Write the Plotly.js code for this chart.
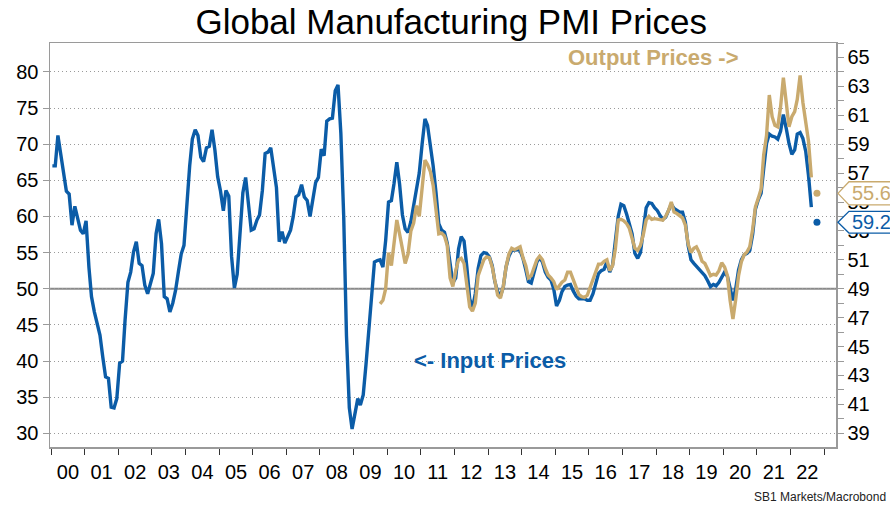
<!DOCTYPE html>
<html>
<head>
<meta charset="utf-8">
<script src="https://cdn.plot.ly/plotly-3.0.1.min.js"></script>
<style>
  html, body { margin: 0; padding: 0; background: #ffffff; }
  #chart { width: 890px; height: 508px; }
</style>
</head>
<body>
<div id="chart"></div>
<script>
// ---- Data (monthly) ----
const inputStart = '2000-01';
const inputPrices = [
  67, 67, 71.2, 68.7, 66.1, 63.5, 63.1, 58.8, 61.4, 59.9, 58.1, 57.6,
  59.4, 53, 48.9, 46.8, 45.1, 43.6, 40.6, 37.8, 37.6, 33.6, 33.5, 34.8,
  39.7, 40, 45.7, 50.9, 52.3, 55.1, 56.5, 53.5, 53.2, 50.5, 49.3, 50.5,
  52.1, 57.6, 59.6, 56.2, 48.9, 48.6, 46.8, 48, 49.8, 52.3, 54.8, 56,
  62, 67, 70.7, 72, 71.2, 68.2, 67.6, 69.5, 69.7, 72, 69.2, 65.5,
  63.5, 60.8, 63.6, 62.8, 54.5, 50.1, 52, 58, 63.3, 65.4, 61.8, 58.1,
  58.3, 59.5, 60.2, 63.6, 68.7, 68.9, 69.5, 67, 64, 56.5, 57.9, 56.3,
  57.2, 58.1, 59.9, 62.7, 63, 64.4, 62.7, 62.2, 60, 62.2, 64.7, 65.4,
  69.3, 68.4, 73.2, 73.5, 73.6, 77.4, 78.2, 71.5, 60, 43.5, 33.5, 30.6,
  32.8, 34.8, 33.9, 35.3, 39.5, 44.5, 49.8, 53.7, 53.9, 54, 53, 56.7,
  62, 62.2, 64.5, 67.5, 64.5, 60.2, 58.3, 57.8, 59.3, 61.5, 63.5, 66,
  70, 73.5, 72.6, 70, 67, 63.3, 59, 58.1, 57.8, 56.3, 53, 50.8,
  51.5, 55.5, 57.2, 56.6, 53, 48.6, 47.3, 49.3, 52.8, 54.6, 55, 54.9,
  54.4, 53.2, 51, 49.6, 49, 50.2, 53, 54.5, 55.3, 55.4, 55.4, 55.3,
  54.2, 52.6, 51, 50.8, 52.4, 53.7, 54.3, 53.7, 52.3, 51.6, 51.2, 50,
  47.6, 48.4, 49.6, 50.3, 50.5, 50.6, 49.7, 49, 48.6, 48.6, 48.6, 48.4,
  48.4, 49.3, 50.8, 52.1, 52.5, 52.7, 53.7, 52.3, 53.3, 56.5, 60, 61.7,
  61.5, 60.3, 59.1, 57.6, 54.9, 54.2, 55, 58, 61.2, 61.9, 61.8, 61.2,
  60.8, 60.1, 59.6, 59.9, 60.8, 61.7, 61.1, 60.9, 60.6, 60.6, 59.2, 56,
  54, 53.5, 53.1, 52.7, 52.2, 51.8, 51.1, 50.3, 50.6, 50.4, 50.9, 51.6,
  52.3, 51.7, 50.3, 48.4, 50, 52.6, 54, 54.7, 54.9, 55.3, 57.5, 61,
  62.3, 63.2, 66.6, 70.1, 71.4, 71.1, 71, 70.7, 71.8, 74.1, 72.2, 70.1,
  68.6, 69.2, 71.4, 71.6, 70.8, 69, 65.7, 61.3
];

const outputStart = '2009-10';
const outputPrices = [
  47.95, 48.2, 49,
  51.5, 50.6, 52, 53.75, 52.8, 51.65, 50.75, 51.4, 53, 53.55, 54.75, 54,
  56, 57.9, 57.6, 57.1, 56.15, 54.25, 52.8, 52.85, 52.65, 52, 49.75, 49.15,
  50.25, 51, 51.1, 50.75, 49.25, 47.75, 47.45, 48, 49.9, 50.5, 51, 51.2,
  51.15, 50.5, 49.5, 48.55, 48.35, 49.15, 50.5, 51.4, 51.8, 51.7, 51.8, 51.9,
  51.15, 50.6, 49.75, 49.9, 50.45, 51, 51.25, 51, 50.4, 49.95, 49.75, 49.5,
  48.95, 49.25, 49.45, 49.6, 50.15, 50.15, 49.65, 49.15, 48.6, 48.45, 48.4, 48.55,
  49.1, 49.5, 50.1, 50.7, 50.7, 50.9, 51, 50.25, 50.6, 51.75, 53.75, 53.8,
  53.7, 53.5, 53.2, 52.5, 51.8, 51.65, 52, 52.75, 53.75, 54, 53.8, 53.85,
  53.8, 53.8, 53.75, 54, 54.4, 55, 54.3, 54.2, 54.05, 53.9, 53.4, 52.1,
  51.5, 51.8, 51.9, 51.5, 50.9, 50.75, 50.35, 49.9, 50, 49.95, 50.25, 50.8,
  50.5, 49.9, 48.2, 46.9, 48.25, 49.9, 50.85, 51.35, 51.55, 51.9, 53.1, 54.65,
  55.25, 55.9, 58.25, 59.6, 62.4, 60.9, 60.3, 60.2, 61.6, 63.6, 61.9, 60.2,
  60.9, 61.25, 62.1, 63.75, 61.9, 60.55, 59.2, 56.7
];

const latestMonth = '2022-10';
const latestInput = 59.2;
const latestOutput = 55.6;

const referenceLevel = 50;
const sourceText = 'SB1 Markets/Macrobond';
const titleText = 'Global Manufacturing PMI Prices';

// ---- Helpers ----
function monthDates(start, n) {
  const parts = start.split('-').map(Number);
  const out = [];
  for (let i = 0; i < n; i++) {
    const t = parts[1] - 1 + i;
    const y = parts[0] + Math.floor(t / 12);
    const m = (t % 12) + 1;
    out.push(y + '-' + String(m).padStart(2, '0') + '-15');
  }
  return out;
}

const BLUE = '#0b5ca7';
const GOLD = '#c9aa6e';
const FONT = 'Liberation Sans, Arial, Helvetica, sans-serif';

const inputX = monthDates(inputStart, inputPrices.length);
const outputX = monthDates(outputStart, outputPrices.length);
const latestX = monthDates(latestMonth, 1);

const traces = [
  { x: inputX, y: inputPrices, type: 'scatter', mode: 'lines', yaxis: 'y',
    line: { color: BLUE, width: 3.4 }, hoverinfo: 'skip' },
  { x: outputX, y: outputPrices, type: 'scatter', mode: 'lines', yaxis: 'y2',
    line: { color: GOLD, width: 3.4 }, hoverinfo: 'skip' },
  { x: latestX, y: [latestInput], type: 'scatter', mode: 'markers', yaxis: 'y',
    marker: { color: BLUE, size: 7 }, hoverinfo: 'skip' },
  { x: latestX, y: [latestOutput], type: 'scatter', mode: 'markers', yaxis: 'y2',
    marker: { color: GOLD, size: 7 }, hoverinfo: 'skip' }
];

// callout boxes for the latest values
function callout(yref, v, half, color) {
  const tip = 1.0025, boxLeft = 1.0165, farRight = 1.2;
  return {
    type: 'path', xref: 'paper', yref: yref, layer: 'above',
    path: 'M ' + tip + ',' + v + ' L ' + boxLeft + ',' + (v + half) +
          ' L ' + farRight + ',' + (v + half) + ' L ' + farRight + ',' + (v - half) +
          ' L ' + boxLeft + ',' + (v - half) + ' Z',
    fillcolor: '#ffffff', line: { color: color, width: 1.3 }
  };
}

const layout = {
  width: 890, height: 508,
  margin: { l: 50, r: 54, t: 43, b: 61, pad: 0 },
  paper_bgcolor: '#ffffff', plot_bgcolor: '#ffffff',
  font: { family: FONT, color: '#000000', size: 20 },
  showlegend: false,
  title: {
    text: titleText, font: { family: FONT, size: 35, color: '#000000' },
    x: 0.507, xanchor: 'center', xref: 'container',
    y: 0.957, yanchor: 'middle', yref: 'container'
  },
  xaxis: {
    type: 'date', range: ['1999-12-20', '2023-05-10'],
    tick0: '2000-01-01', dtick: 'M12', tickformat: '%y', ticklabelmode: 'period',
    ticks: 'outside', ticklen: 6, tickwidth: 1, tickcolor: '#333333',
    showline: true, linecolor: '#9a9a9a', linewidth: 1.5, mirror: true,
    showgrid: false, zeroline: false,
    tickfont: { family: FONT, size: 20, color: '#000000' }
  },
  yaxis: {
    range: [28.1, 84], tick0: 0, dtick: 5,
    ticks: 'outside', ticklen: 6, tickwidth: 1, tickcolor: '#9a9a9a',
    showline: true, linecolor: '#9a9a9a', linewidth: 1.5,
    showgrid: true, gridcolor: '#9a9a9a', gridwidth: 1, griddash: '1px,3px',
    zeroline: false,
    tickfont: { family: FONT, size: 20, color: '#000000' }
  },
  yaxis2: {
    overlaying: 'y', side: 'right', range: [38.05, 66], tick0: 1, dtick: 2,
    ticks: 'outside', ticklen: 6, tickwidth: 1, tickcolor: '#9a9a9a',
    minor: { dtick: 1, ticks: 'outside', ticklen: 6, tickwidth: 1, tickcolor: '#9a9a9a', showgrid: false },
    showline: true, linecolor: '#9a9a9a', linewidth: 1.5,
    showgrid: false, zeroline: false,
    tickfont: { family: FONT, size: 20, color: '#000000' }
  },
  shapes: [
    { type: 'line', xref: 'paper', x0: 0, x1: 1, yref: 'y', y0: referenceLevel, y1: referenceLevel,
      line: { color: '#8a8a8a', width: 2 }, layer: 'below' },
    callout('y2', latestOutput, 0.8, GOLD),
    callout('y', latestInput, 1.5, BLUE)
  ],
  annotations: [
    { text: '<b>Output Prices -&gt;</b>', xref: 'paper', yref: 'paper', x: 0.768, y: 0.963,
      xanchor: 'center', yanchor: 'middle', showarrow: false,
      font: { family: FONT, size: 22, color: GOLD } },
    { text: '<b>&lt;- Input Prices</b>', xref: 'paper', yref: 'paper', x: 0.56, y: 0.215,
      xanchor: 'center', yanchor: 'middle', showarrow: false,
      font: { family: FONT, size: 22, color: BLUE } },
    { text: String(latestOutput), xref: 'paper', yref: 'y2', x: 1.018, y: latestOutput,
      xanchor: 'left', yanchor: 'middle', showarrow: false,
      font: { family: FONT, size: 20, color: GOLD } },
    { text: String(latestInput), xref: 'paper', yref: 'y', x: 1.018, y: latestInput,
      xanchor: 'left', yanchor: 'middle', showarrow: false,
      font: { family: FONT, size: 20, color: BLUE } },
    { text: sourceText, xref: 'paper', yref: 'paper', x: 1.066, y: -0.124,
      xanchor: 'right', yanchor: 'middle', showarrow: false,
      font: { family: FONT, size: 12, color: '#222222' } }
  ]
};

Plotly.newPlot('chart', traces, layout, { staticPlot: true, displayModeBar: false });
</script>
</body>
</html>
